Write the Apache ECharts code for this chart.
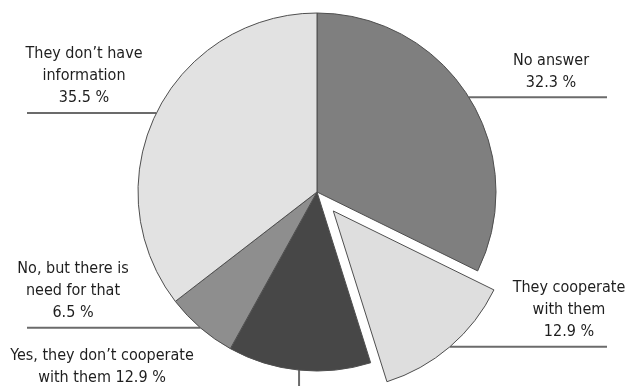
<!DOCTYPE html>
<html>
<head>
<meta charset="utf-8">
<title>Cooperation pie</title>
<script src="https://cdn.jsdelivr.net/npm/echarts@6/dist/echarts.min.js"></script>
<style>
  html, body { margin: 0; padding: 0; background: #ffffff; }
  #chart { width: 627px; height: 386px; }
</style>
</head>
<body>
<div id="chart"></div>
<script>
// Answer categories, clockwise from 12 o'clock
const categories = [
  'No answer',
  'They cooperate\nwith them',
  'Yes, they don\u2019t cooperate\nwith them',
  'No, but there is\nneed for that',
  'They don\u2019t have\ninformation'
];
// Share of answers, percent
const shares = [32.3, 12.9, 12.9, 6.5, 35.5];
// Grey fill for each slice
const sliceColors = ['#7f7f7f', '#dedede', '#474747', '#8e8e8e', '#e2e2e2'];
// The slice pulled out of the pie
const explodedIndex = 1;

// Label placement: which way the leader runs, where it ends, where the text sits
const labelPlacement = [
  { side: 'right', lineEnd: 607, textX: 551 },
  { side: 'right', lineEnd: 607, textX: 569 },
  { side: 'down',  lineEnd: 386, textX: 102 },
  { side: 'left',  lineEnd: 27,  textX: 73 },
  { side: 'left',  lineEnd: 27,  textX: 84 }
];

const pieCenter = [317, 192];
const pieRadius = 179;
const explodeDistance = 25;
const borderColor = '#4f4f4f';
const fontStack = "'Liberation Sans Narrow', 'DejaVu Sans Condensed', 'Liberation Sans', Arial, sans-serif";

// Shift of the pulled-out slice along its middle angle
const total = shares.reduce(function (a, b) { return a + b; }, 0);
const before = shares.slice(0, explodedIndex).reduce(function (a, b) { return a + b; }, 0);
const midFrac = (before + shares[explodedIndex] / 2) / total;
const midRad = (90 - 360 * midFrac) * Math.PI / 180;
const explodedCenter = [
  pieCenter[0] + Math.cos(midRad) * explodeDistance,
  pieCenter[1] - Math.sin(midRad) * explodeDistance
];

function labelText(p) {
  const pct = p.value.toFixed(1) + ' %';
  return p.dataIndex === 2 ? p.name + ' ' + pct : p.name + '\n' + pct;
}

function placeLabel(p) {
  if (!p.labelLinePoints || !p.labelLinePoints.length) {
    return {};
  }
  const cfg = labelPlacement[p.dataIndex];
  const start = p.labelLinePoints[0];
  if (cfg.side === 'down') {
    return {
      x: cfg.textX,
      y: start[1] + 19,
      align: 'center',
      verticalAlign: 'bottom',
      labelLinePoints: [[start[0], start[1]], [start[0], cfg.lineEnd], [start[0], cfg.lineEnd]]
    };
  }
  return {
    x: cfg.textX,
    y: start[1] - 4,
    align: 'center',
    verticalAlign: 'bottom',
    labelLinePoints: [[start[0], start[1]], [cfg.lineEnd, start[1]], [cfg.lineEnd, start[1]]]
  };
}

// One pie series; `pulled` picks whether it draws the pulled-out slice or the rest
function pieSeries(pulled) {
  return {
    type: 'pie',
    center: pulled ? explodedCenter : pieCenter,
    radius: pieRadius,
    startAngle: 90,
    clockwise: true,
    avoidLabelOverlap: false,
    silent: true,
    emphasis: { disabled: true },
    label: {
      show: true,
      position: 'outside',
      color: '#1e1e1e',
      fontFamily: fontStack,
      fontSize: 16,
      lineHeight: 22,
      align: 'center',
      formatter: labelText
    },
    labelLine: {
      show: true,
      length: 0,
      length2: 10,
      lineStyle: { color: '#6b6b6b', width: 2 }
    },
    labelLayout: placeLabel,
    data: categories.map(function (name, i) {
      const visible = (i === explodedIndex) === pulled;
      return {
        name: name,
        value: shares[i],
        itemStyle: visible
          ? { color: sliceColors[i], borderColor: borderColor, borderWidth: 1 }
          : { color: 'rgba(0,0,0,0)', borderWidth: 0 },
        label: { show: visible },
        labelLine: { show: visible }
      };
    })
  };
}

const chart = echarts.init(document.getElementById('chart'), null, { renderer: 'canvas' });
chart.setOption({
  animation: false,
  backgroundColor: '#ffffff',
  series: [pieSeries(false), pieSeries(true)]
});
</script>
</body>
</html>
